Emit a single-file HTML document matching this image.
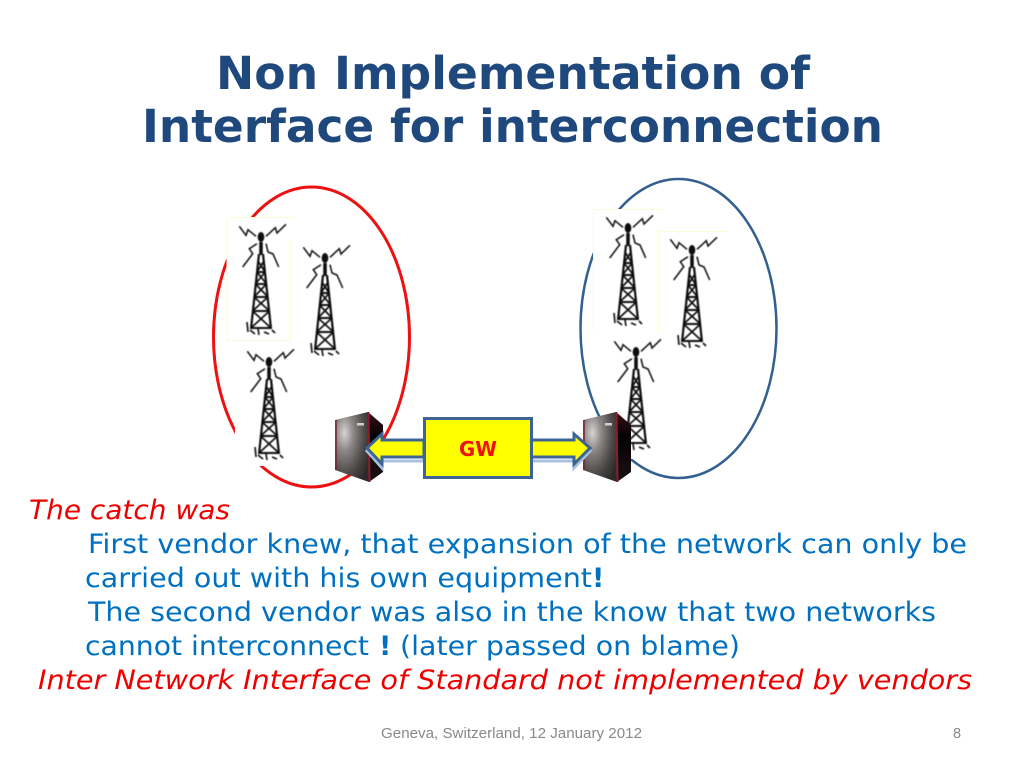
<!DOCTYPE html>
<html><head><meta charset="utf-8"><style>html,body{margin:0;padding:0;background:#fff}svg{display:block}text{font-family:"DejaVu Sans",sans-serif}</style></head><body>
<svg xmlns="http://www.w3.org/2000/svg" width="1024" height="768" viewBox="0 0 1024 768">
<defs>
<radialGradient id="f" cx=".28" cy=".3" r=".85"><stop offset="0" stop-color="#d8d4d4"/><stop offset=".3" stop-color="#8e8888"/><stop offset=".7" stop-color="#4c4848"/><stop offset="1" stop-color="#2a2828"/></radialGradient>
<linearGradient id="s" x1="0" y1="0" x2="0" y2="1"><stop offset="0" stop-color="#3a1016"/><stop offset=".35" stop-color="#050304"/><stop offset="1" stop-color="#1c1014"/></linearGradient>
<filter id="b" x="-20%" y="-20%" width="140%" height="140%"><feGaussianBlur stdDeviation=".45"/></filter>
<g id="tower" fill="none" stroke="#0a0a0a" filter="url(#b)">
<ellipse cx="0" cy="0" rx="3.300" ry="5" fill="#0a0a0a" stroke="none"/>
<path d="M0 5V18" stroke-width="3.500"/>
<path d="M-2 17L-10 92M2 17L10 92" stroke-width="2.200"/>
<path d="M-4 35H4M-5.500 47H5.500M-7 60H7M-8.500 74H8.500M-10 91H10" stroke-width="2"/>
<path d="M-3 24L4 35M3 24L-4 35M-4 35L5.500 47M4 35L-5.500 47M-5.500 47L7 60M5.500 47L-7 60M-7 60L8.500 74M7 60L-8.500 74M-8.500 74L10 91M8.500 74L-10 91" stroke-width="1.700"/>
<path d="M-14 85L-13 95M-11 93L-6 97M-3 92L-2 98M3 95L8 97M11 93L14 96" stroke-width="1.600"/>
<path d="M-21.700 -10.700L-15 -1.700L-13 -7.300L-5 -.7" stroke-width="1.500"/>
<path d="M25 -12.700L16 -4L14.300 -9.300L5 -.7" stroke-width="1.500"/>
<path d="M-4 6.700L-11.700 11.700L-8.300 16.700L-18.300 30" stroke-width="1.500"/>
<path d="M5 6.700L7 15L12 17L17.700 30" stroke-width="1.500"/>
</g>
<g id="server">
<polygon points="335,420 368,412 369,482 335,470" fill="url(#f)"/>
<polygon points="368,412 383,425 383,472 369,482" fill="url(#s)"/>
<path d="M336 420V470" stroke="#7a2230" stroke-width="1.500"/>
<path d="M368.500 412L369.500 482" stroke="#8c1c30" stroke-width="2"/>
<rect x="357" y="423" width="7" height="2.500" fill="#cfcfcf"/>
</g>
</defs>
<rect width="1024" height="768" fill="#fff"/>
<text x="216" y="89" font-size="45" font-weight="700" fill="#1f497d" textLength="594" lengthAdjust="spacingAndGlyphs">Non Implementation of</text>
<text x="142" y="142" font-size="45" font-weight="700" fill="#1f497d" textLength="741" lengthAdjust="spacingAndGlyphs">Interface for interconnection</text>

<ellipse cx="311.500" cy="337" rx="98" ry="150" fill="none" stroke="#ee1111" stroke-width="3"/>
<ellipse cx="678.500" cy="328.500" rx="98" ry="149.500" fill="none" stroke="#33608f" stroke-width="2.500"/>

<rect x="227" y="217" width="64" height="124" fill="#fff"/>
<path d="M227 340.500V217.500H293M290.500 240V340.500H227" fill="none" stroke="#fbfbd8"/>
<rect x="292" y="240" width="62" height="122" fill="#fff"/>
<rect x="235" y="341" width="66" height="125" fill="#fff"/>
<rect x="593" y="209" width="66" height="124" fill="#fff"/>
<path d="M593.500 331V209.500H664" fill="none" stroke="#fbfbd8"/>
<rect x="658" y="231" width="66" height="124" fill="#fff"/>
<path d="M658.500 333V231.500H727" fill="none" stroke="#fbfbd8"/>
<rect x="602" y="333" width="64" height="126" fill="#fff"/>

<use href="#tower" x="261" y="237"/>
<use href="#tower" x="325" y="258"/>
<use href="#tower" x="269" y="362"/>
<use href="#tower" x="628" y="228"/>
<use href="#tower" x="692" y="250"/>
<use href="#tower" x="636" y="352"/>

<use href="#server"/>
<use href="#server" x="248"/>

<path d="M367 451L382 437V443H424V461H382V468ZM590 451L574 437V443H531V461H574V468Z" fill="none" stroke="#a9c0e0" stroke-width="3"/>
<path d="M367 448L382 434V440H424V457H382V464ZM590 448L574 434V440H531V457H574V464Z" fill="#ffff00" stroke="#3c6494" stroke-width="3" stroke-linejoin="miter"/>
<rect x="424.500" y="418.500" width="107" height="59" fill="#ffff00" stroke="#3c6494" stroke-width="3"/>
<text x="478" y="456" font-size="20" font-weight="700" fill="#ee1111" text-anchor="middle" textLength="38" lengthAdjust="spacingAndGlyphs">GW</text>

<g font-size="27" fill="#0070c0">
<text x="29" y="519" fill="#ee0000" font-style="italic" textLength="201" lengthAdjust="spacingAndGlyphs">The catch was</text>
<text x="88" y="553" textLength="879" lengthAdjust="spacingAndGlyphs">First vendor knew, that expansion of the network can only be</text>
<text x="85" y="587" textLength="507" lengthAdjust="spacingAndGlyphs">carried out with his own equipment</text>
<text x="592" y="587" font-weight="700">!</text>
<text x="88" y="621" textLength="848" lengthAdjust="spacingAndGlyphs">The second vendor was also in the know that two networks</text>
<text x="85" y="655" textLength="284" lengthAdjust="spacingAndGlyphs">cannot interconnect</text>
<text x="379" y="655" font-weight="700">!</text>
<text x="400" y="655" textLength="340" lengthAdjust="spacingAndGlyphs">(later passed on blame)</text>
<text x="38" y="689" fill="#ee0000" font-style="italic" textLength="934" lengthAdjust="spacingAndGlyphs">Inter Network Interface of Standard not implemented by vendors</text>
</g>
<g style="font-family:'Liberation Sans',sans-serif" font-size="14.500" fill="#898989">
<text x="381" y="738" style="font-family:'Liberation Sans',sans-serif" textLength="261" lengthAdjust="spacingAndGlyphs">Geneva, Switzerland, 12 January 2012</text>
<text x="953" y="738" style="font-family:'Liberation Sans',sans-serif">8</text>
</g>
</svg>
</body></html>
